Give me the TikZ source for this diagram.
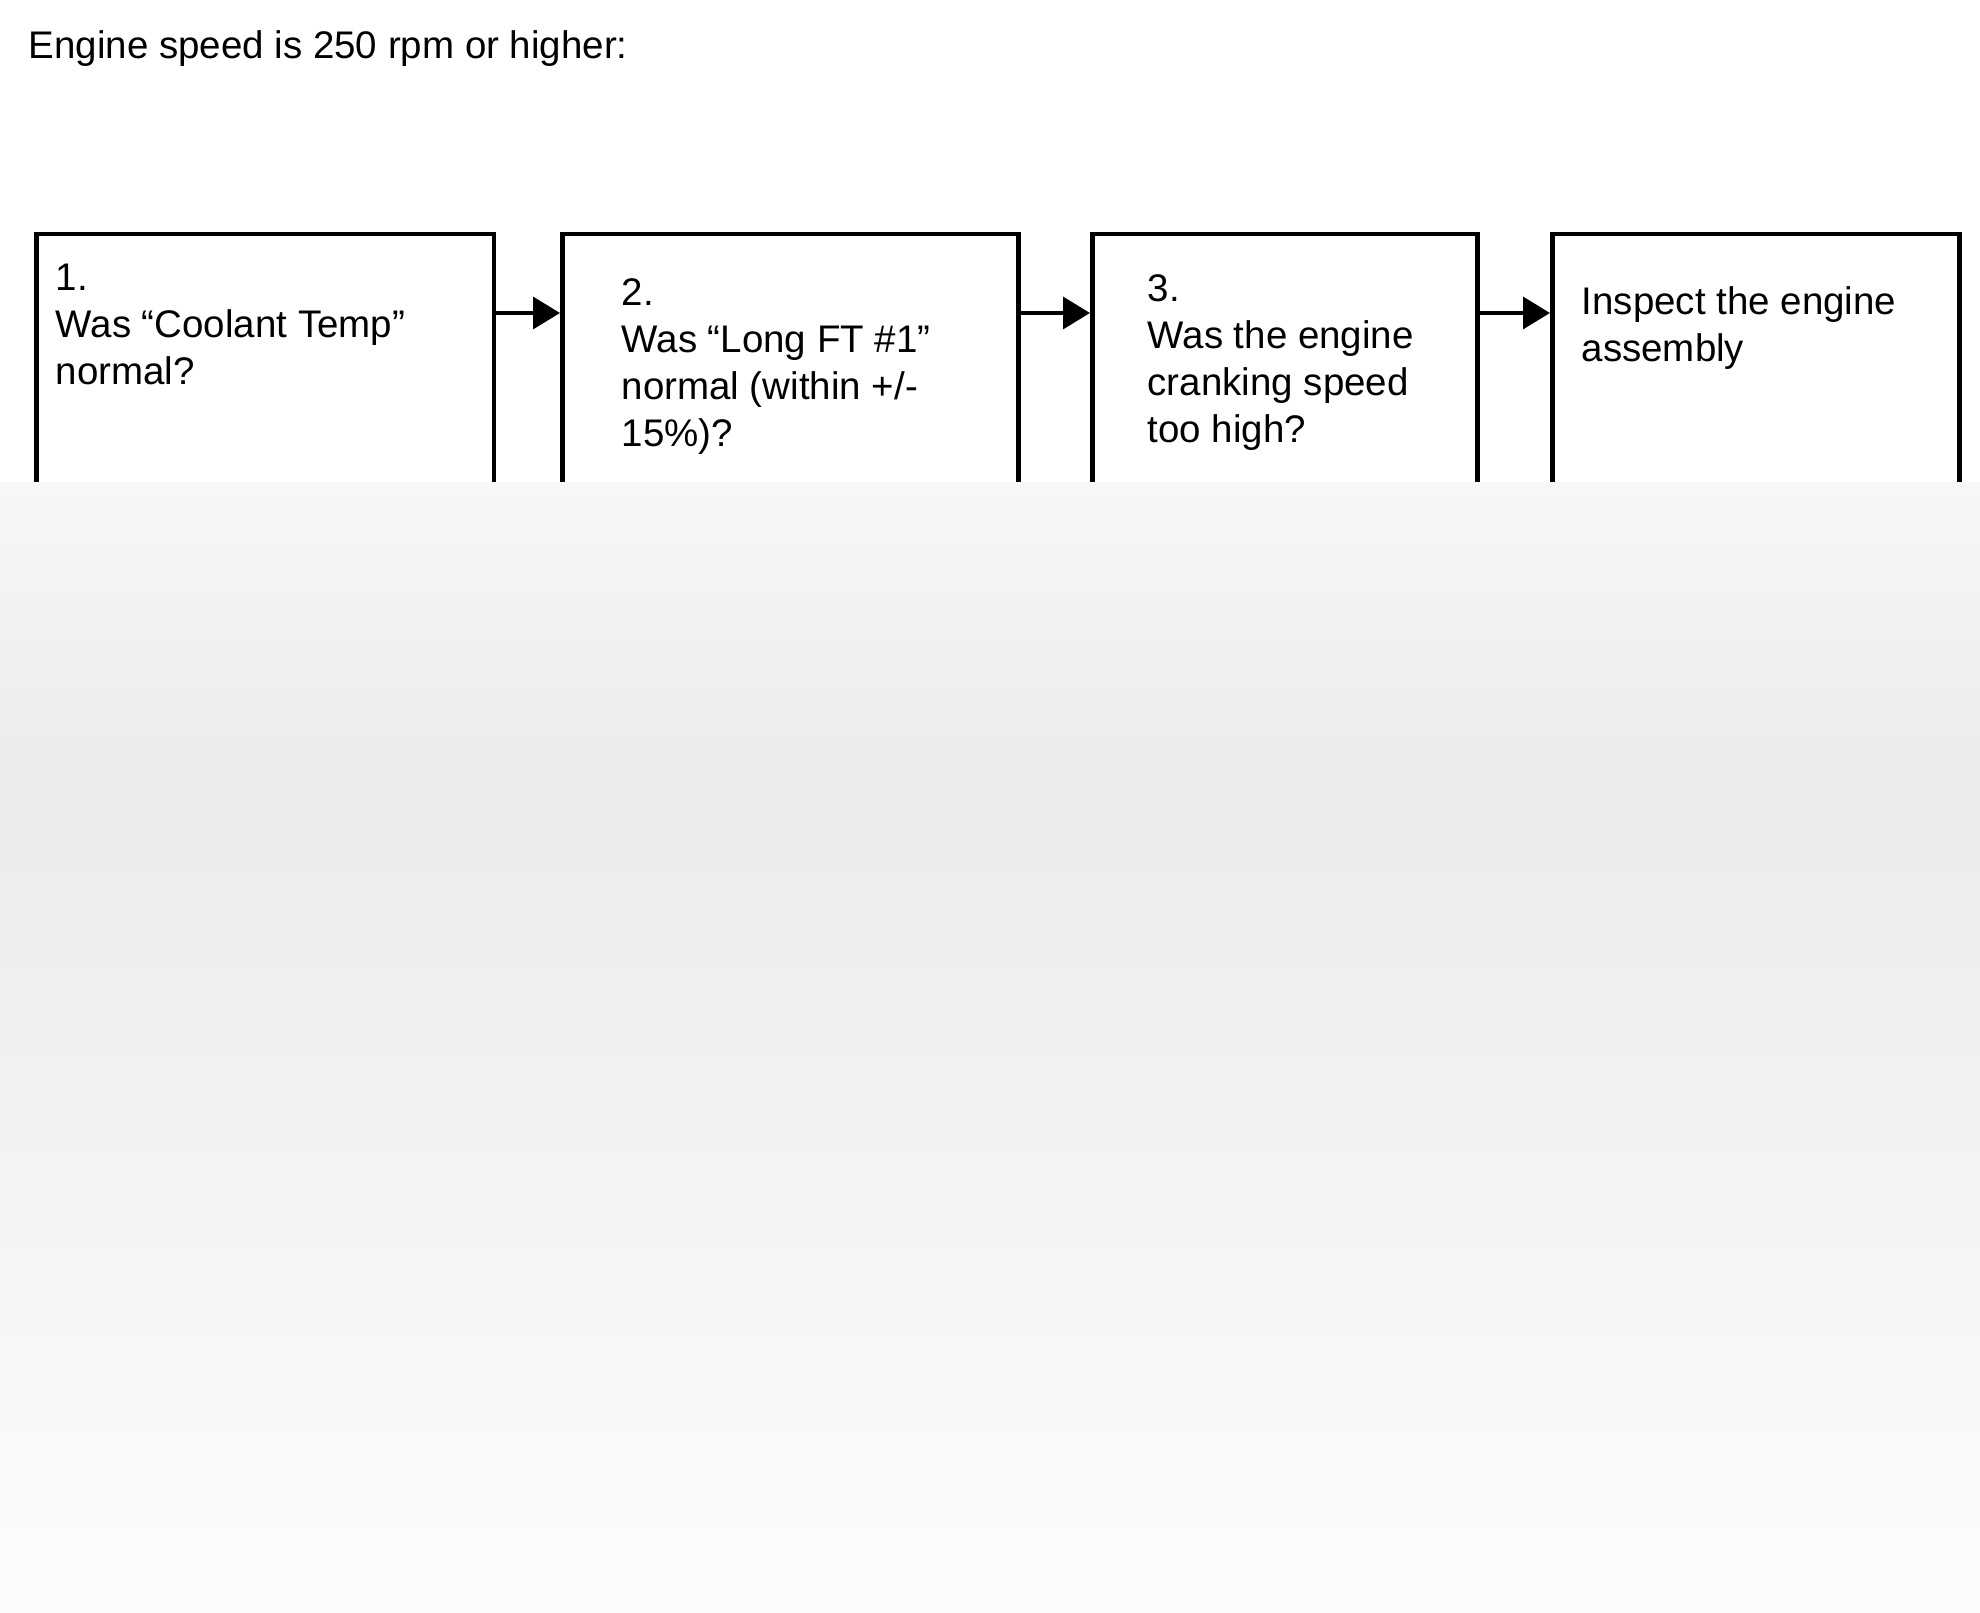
\documentclass[tikz,border=0pt]{standalone}
\usepackage{fontspec}
\setmainfont{Liberation Sans}
\usetikzlibrary{arrows.meta,positioning}

\begin{document}
\begin{tikzpicture}[x=0.1mm,y=-0.1mm,
    every node/.style={font=\fontsize{10.95pt}{13.4pt}\selectfont},
    qbox/.style={draw,line width=0.45mm,rectangle,inner sep=0pt,anchor=north west,minimum height=40mm},
    qtext/.style={anchor=base west,align=left,inner sep=0pt},
    flow/.style={line width=0.35mm,-{Triangle[length=2.7mm,width=3.2mm]}}]
    \useasboundingbox (0,0) rectangle (1980,1613);
    \node[qtext] (title) at (28,59) {Engine speed is 250 rpm or higher:};
    % boxes
    \node[qbox,minimum width=45.8mm] (b1) at (34,232) {};
    \node[qbox,minimum width=45.6mm] (b2) at (560,232) {};
    \node[qbox,minimum width=38.5mm] (b3) at (1090,232) {};
    \node[qbox,minimum width=40.7mm] (b4) at (1550,232) {};
    % texts, placed by their last line
    \node[qtext] (t1) at (55,385) {1.\\Was “Coolant Temp”\\normal?};
    \node[qtext] (t2) at (621,447) {2.\\Was “Long FT \#1”\\normal (within +/-\\15\%)?};
    \node[qtext] (t3) at (1147,443) {3.\\Was the engine\\cranking speed\\too high?};
    \node[qtext] (t4) at (1581,362) {Inspect the engine\\assembly};
    % arrows
    \coordinate (row) at (0,313);
    \draw[flow] (b1.east |- row) -- (b2.west |- row);
    \draw[flow] (b2.east |- row) -- (b3.west |- row);
    \draw[flow] (b3.east |- row) -- (b4.west |- row);
    % blurred cover
    \shade[top color=black!3,bottom color=black!8] (0,483) rectangle (1980,780);
    \shade[top color=black!8,bottom color=black!1] (0,779) rectangle (1980,1613);
\end{tikzpicture}
\end{document}
